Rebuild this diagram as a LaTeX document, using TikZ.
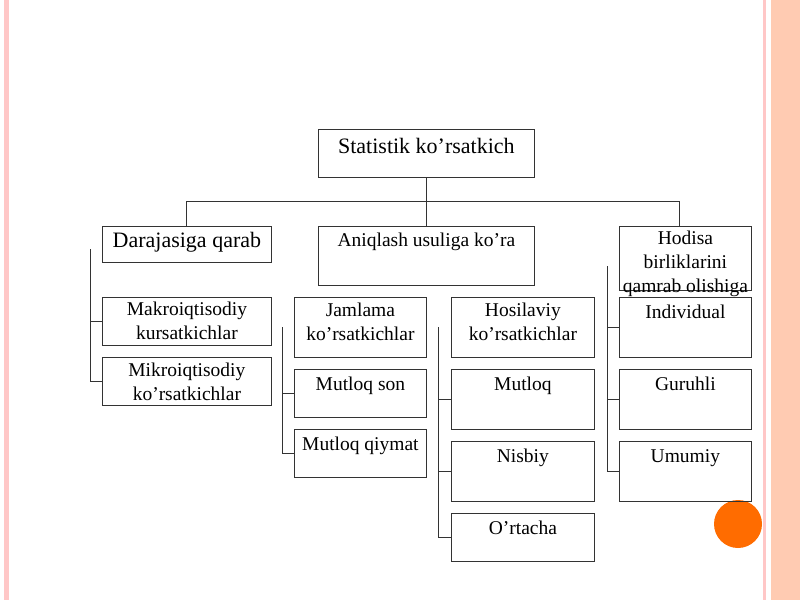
\documentclass[tikz,border=0pt]{standalone}
\usepackage{fontspec}
\setmainfont{Liberation Serif}
\usetikzlibrary{positioning,calc}
\tikzset{
  box/.style={draw=black!80, line width=0.8pt, anchor=north west, inner sep=0pt},
  txt/.style={anchor=north, align=center, inner sep=0pt, font=\fontsize{19.5}{24}\selectfont},
  wire/.style={draw=black!80, line width=0.8pt}
}
% box: name, x, y, width, height, text, top gap
\newcommand{\bx}[7]{%
  \node[box, minimum width=#4, minimum height=#5] (#1) at (#2,#3) {};
  \node[txt] (#1t) at ([yshift=-#7]#1.north) {#6};
}
\begin{document}
\begin{tikzpicture}[x=1pt,y=-1pt]
  \useasboundingbox (0,0) rectangle (800,600);
  % slide frame
  \fill[red!22] (4,0) rectangle (9,600);
  \fill[red!22] (763,0) rectangle (766,600);
  \fill[red!35!orange!30] (771,0) rectangle (800,600);
  \fill[orange!85!red] (738,524) circle (24);

  % top
  \node[box, minimum width=216, minimum height=48] (top) at (318,129) {};
  \node[txt, font=\fontsize{22}{26}\selectfont] (topt) at ([yshift=-9]top.north) {Statistik ko’rsatkich};

  % second row
  \node[box, minimum width=169, minimum height=36] (daraja) at (102,226) {};
  \node[txt, font=\fontsize{22}{26}\selectfont] (darajat) at ([yshift=-6]daraja.north) {Darajasiga qarab};
  \bx{aniq}{318}{226}{216}{59}{Aniqlash usuliga ko’ra}{7}
  \bx{hodisa}{619}{226}{132}{64}{Hodisa\\birliklarini\\qamrab olishiga}{5}

  % left column
  \bx{makro}{102}{297}{169}{48}{Makroiqtisodiy\\kursatkichlar}{5}
  \bx{mikro}{102}{357}{169}{48}{Mikroiqtisodiy\\ko’rsatkichlar}{6}

  % jamlama column
  \bx{jamlama}{294}{297}{132}{60}{Jamlama\\ko’rsatkichlar}{6}
  \bx{mson}{294}{369}{132}{48}{Mutloq son}{8}
  \bx{mqiymat}{294}{429}{132}{48}{Mutloq qiymat}{8}

  % hosilaviy column
  \bx{hosil}{451}{297}{143}{60}{Hosilaviy\\ko’rsatkichlar}{6}
  \bx{mutloq}{451}{369}{143}{60}{Mutloq}{8}
  \bx{nisbiy}{451}{441}{143}{60}{Nisbiy}{8}
  \bx{ortacha}{451}{513}{143}{48}{O’rtacha}{8}

  % hodisa column
  \bx{indiv}{619}{297}{132}{60}{Individual}{8}
  \bx{guruh}{619}{369}{132}{60}{Guruhli}{8}
  \bx{umumiy}{619}{441}{132}{60}{Umumiy}{8}

  % bus
  \coordinate (busL) at (186,201);
  \coordinate (busR) at (679,201);
  \draw[wire] (top.south) -- (aniq.north);
  \draw[wire] (daraja.north -| busL) |- (busR) -- (hodisa.north -| busR);

  % brackets
  \draw[wire] ([xshift=-12,yshift=-5]daraja.west) |- (mikro.west);
  \draw[wire] ([xshift=-12]makro.west) -- (makro.west);
  \draw[wire] ([xshift=-12]jamlama.west) |- (mqiymat.west);
  \draw[wire] ([xshift=-12]mson.west) -- (mson.west);
  \draw[wire] ([xshift=-13]hosil.west) |- (ortacha.west);
  \draw[wire] ([xshift=-13]mutloq.west) -- (mutloq.west);
  \draw[wire] ([xshift=-13]nisbiy.west) -- (nisbiy.west);
  \draw[wire] ([xshift=-12,yshift=-8]hodisa.west) |- (umumiy.west);
  \draw[wire] ([xshift=-12]indiv.west) -- (indiv.west);
  \draw[wire] ([xshift=-12]guruh.west) -- (guruh.west);
\end{tikzpicture}
\end{document}
